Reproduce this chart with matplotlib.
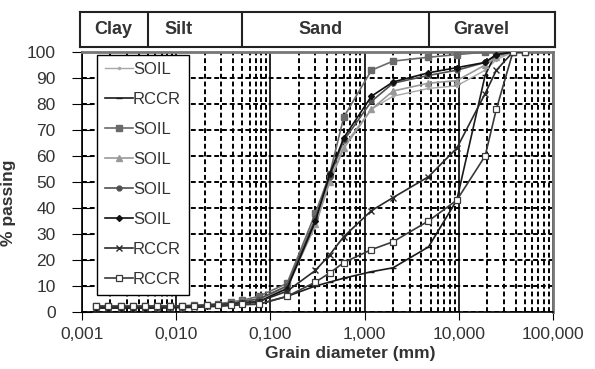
import numpy as np
import matplotlib
matplotlib.use("Agg")
import matplotlib.pyplot as plt
from matplotlib.ticker import LogLocator, NullFormatter, FixedLocator

plt.rcParams['font.family'] = ['Liberation Sans', 'DejaVu Sans']

# grain sizes (mm): hydrometer part + sieve part
d_fine = [0.0014, 0.0019, 0.0026, 0.0035, 0.0047, 0.0063, 0.0085,
          0.0115, 0.0155, 0.021, 0.028, 0.038, 0.05]
d_sieve = [0.075, 0.15, 0.3, 0.425, 0.6, 1.18, 2, 4.75, 9.5, 19, 25, 37.5, 50]

# % passing, fine part
p_fine_soil1 = [2.0, 2.0, 2.0, 2.0, 2.0, 2.0, 2.0, 2.2, 2.4, 2.6, 3.0, 3.4, 4.0]
p_fine_rccr1 = [1.5, 1.5, 1.5, 1.5, 1.5, 1.5, 1.6, 1.7, 1.8, 2.0, 2.2, 2.5, 2.8]
p_fine_soil2 = [2.2, 2.2, 2.2, 2.2, 2.2, 2.2, 2.3, 2.4, 2.6, 2.8, 3.2, 3.8, 4.5]
p_fine_soil3 = [1.8, 1.8, 1.8, 1.8, 1.8, 1.9, 2.0, 2.1, 2.3, 2.6, 3.0, 3.5, 4.2]
p_fine_soil4 = [2.0, 2.0, 2.0, 2.0, 2.1, 2.1, 2.2, 2.3, 2.5, 2.7, 3.0, 3.4, 4.0]
p_fine_soil5 = [1.7, 1.7, 1.7, 1.7, 1.7, 1.8, 1.9, 2.0, 2.2, 2.4, 2.7, 3.0, 3.5]
p_fine_rccr2 = [1.8, 1.8, 1.8, 1.8, 1.8, 1.8, 1.9, 2.0, 2.1, 2.3, 2.6, 3.0, 3.4]
p_fine_rccr3 = [2.3, 2.3, 2.3, 2.3, 2.3, 2.3, 2.3, 2.3, 2.4, 2.5, 2.6, 2.8, 3.0]

# % passing, sieve part
p_sieve_soil1 = [5, 10, 33, 50, 64, 78, 83, 86, 87, 93, 97, 100, 100]
p_sieve_rccr1 = [3, 6, 10, 11.5, 13, 15.5, 17, 25, 43, 91, 100, 100, 100]
p_sieve_soil2 = [6, 11, 38, 53, 75, 93, 96.5, 98, 99, 100, 100, 100, 100]
p_sieve_soil3 = [5, 9, 34, 50, 63, 78, 85, 88, 89, 95, 98, 100, 100]
p_sieve_soil4 = [5, 10, 36, 52, 66, 81, 88, 91, 93, 96, 99, 100, 100]
p_sieve_soil5 = [4, 9, 35, 53, 67, 83, 88.5, 92, 94, 96, 99, 100, 100]
p_sieve_rccr2 = [4, 8, 16, 22, 29, 39, 44, 52, 63, 84, 93, 100, 100]
p_sieve_rccr3 = [3, 6, 11.5, 15, 19, 24, 27, 35, 43, 60, 78, 100, 100]

labels = ["SOIL", "RCCR", "SOIL", "SOIL", "SOIL", "SOIL", "RCCR", "RCCR"]

d_all = d_fine + d_sieve
series = [
    (p_fine_soil1 + p_sieve_soil1, dict(color="#a8a8a8", marker=".", ms=3, lw=1.0)),
    (p_fine_rccr1 + p_sieve_rccr1, dict(color="#1a1a1a", marker="_", ms=5, lw=1.2)),
    (p_fine_soil2 + p_sieve_soil2, dict(color="#6a6a6a", marker="s", ms=4, lw=1.2)),
    (p_fine_soil3 + p_sieve_soil3, dict(color="#999999", marker="^", ms=4, lw=1.2)),
    (p_fine_soil4 + p_sieve_soil4, dict(color="#505050", marker="o", ms=3.5, lw=1.2)),
    (p_fine_soil5 + p_sieve_soil5, dict(color="#111111", marker="D", ms=3, lw=1.2)),
    (p_fine_rccr2 + p_sieve_rccr2, dict(color="#2a2a2a", marker="x", ms=4, mew=1.0, lw=1.2)),
    (p_fine_rccr3 + p_sieve_rccr3, dict(color="#3a3a3a", marker="s", ms=4, mfc="white", mew=0.9, lw=1.2)),
]

fig = plt.figure(figsize=(5.95, 3.69), dpi=100)
ax = fig.add_axes([0.138, 0.1545, 0.7915, 0.7045])

for (p, style), lab in zip(series, labels):
    ax.plot(d_all, p, label=lab, zorder=3, **style)

ax.set_xscale("log")
ax.set_xlim(0.001, 100)
ax.set_ylim(0, 100)
ax.xaxis.set_major_locator(FixedLocator([0.001, 0.01, 0.1, 1, 10, 100]))
ax.xaxis.set_minor_locator(LogLocator(base=10, subs=np.arange(2, 10)))
ax.xaxis.set_minor_formatter(NullFormatter())
ax.set_xticklabels(["0,001", "0,010", "0,100", "1,000", "10,000", "100,000"])
ax.set_yticks(np.arange(0, 101, 10))

ax.grid(True, which="major", axis="x", color="black", lw=1.2, ls="-")
ax.grid(True, which="minor", axis="x", color="black", lw=1.4, ls=(0, (2.5, 1.5)))
ax.grid(True, which="major", axis="y", color="black", lw=1.4, ls=(0, (2.5, 1.5)))

ax.tick_params(axis="both", which="major", labelsize=12.5, colors="black")
ax.tick_params(axis="y", direction="inout", length=14, pad=12)
ax.tick_params(axis="x", which="major", direction="out", length=6, pad=5)
ax.tick_params(axis="x", which="minor", length=0)
for lab in ax.get_xticklabels() + ax.get_yticklabels():
    lab.set_color("#333333")

for s in ["left", "bottom"]:
    ax.spines[s].set_color("black")
    ax.spines[s].set_linewidth(1.2)
for s in ["top", "right"]:
    ax.spines[s].set_color("#777777")
    ax.spines[s].set_linewidth(2)

ax.set_xlabel("Grain diameter (mm)", fontsize=12.5, fontweight="bold", color="#333333", labelpad=0)
ax.xaxis.set_label_coords(0.57, -0.13)
ax.set_ylabel("% passing", fontsize=12.5, fontweight="bold", color="#333333")
ax.yaxis.set_label_coords(-0.14, 0.42)

leg = ax.legend(loc="upper left", bbox_to_anchor=(0.032, 0.99), fontsize=12,
                frameon=True, fancybox=False, framealpha=1, edgecolor="black",
                handlelength=1.7, handletextpad=0.0, labelspacing=0.9,
                borderpad=0.45, borderaxespad=0)
leg.get_frame().set_linewidth(1.0)
leg.set_zorder(5)
for t in leg.get_texts():
    t.set_color("#333333")

# header with soil classes
hx = fig.add_axes([0.135, 0.873, 0.798, 0.094])
hx.set_xscale("log")
hx.set_xlim(0.001 * 10 ** (-2 / 94.2), 100 * 10 ** (2 / 94.2))
hx.set_ylim(0, 1)
hx.set_xticks([])
hx.set_yticks([])
hx.minorticks_off()
for s in hx.spines.values():
    s.set_linewidth(1.5)
    s.set_color("#222222")

bounds = [0.005, 0.05, 4.75]
zones = ["Clay", "Silt", "Sand", "Gravel"]
zone_x = [0.00213, 0.0104, 0.336, 17.2]
for b in bounds:
    hx.axvline(b, color="#222222", lw=1.5)
for name, x in zip(zones, zone_x):
    hx.text(x, 0.5, name, ha="center", va="center", fontsize=13,
            fontweight="bold", color="#333333")

fig.savefig("out.png", dpi=100)
